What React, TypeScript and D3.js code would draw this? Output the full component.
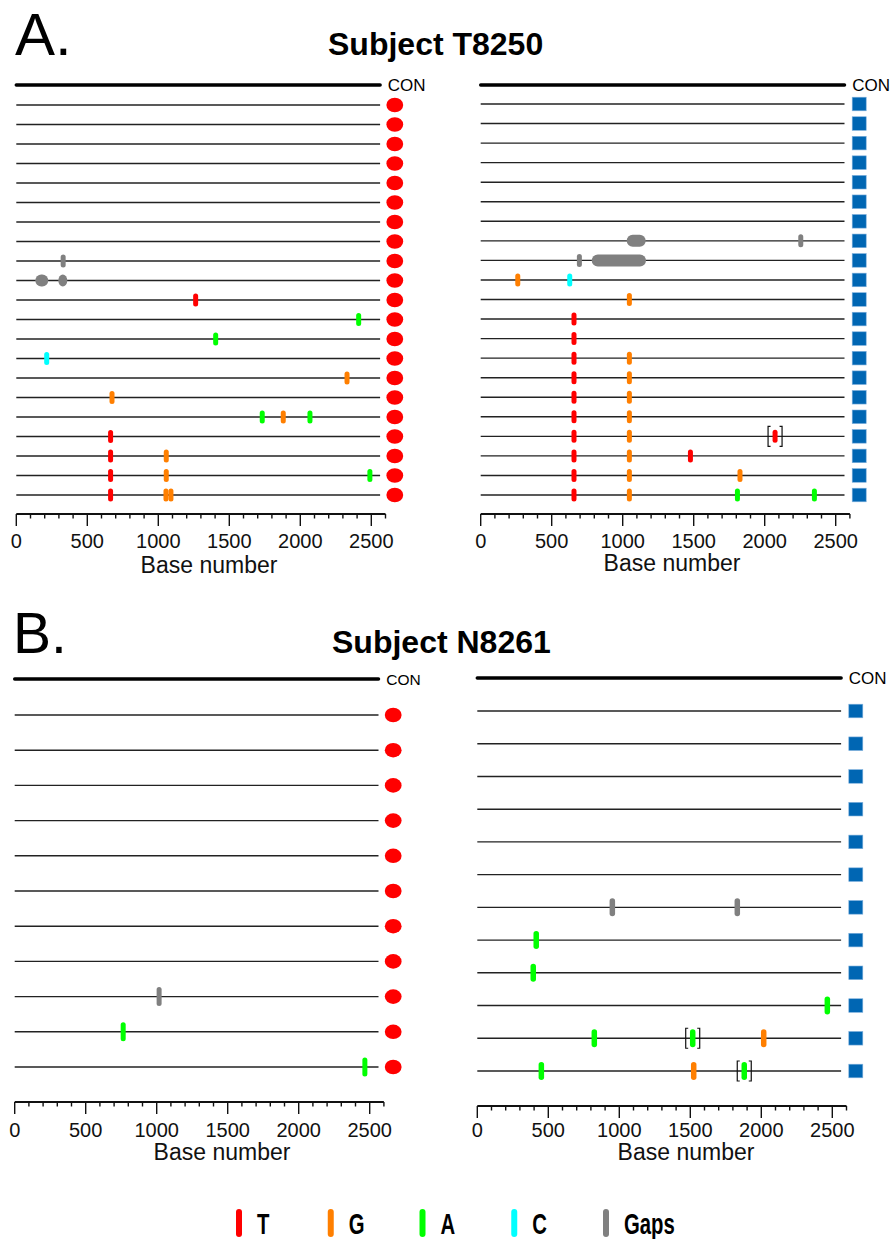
import * as d3 from 'd3';

// base colours used for every mutation tick and the legend
const baseColors: Record<string, string> = {
  T: '#ff0000',
  G: '#ff7f00',
  A: '#00ff00',
  C: '#00ffff',
  Gaps: '#808080',
};

const legendBases = ['T', 'G', 'A', 'C', 'Gaps'];
const axisTicks = [0, 500, 1000, 1500, 2000, 2500];
const axisMax = 2600;
const seqLength = 2562;

// one mutation: base, position, optional end (gap spans), optional brackets
type Mut = { b: string; at: number; to?: number; br?: boolean };

const t8250Left: Mut[][] = [
  [], [], [], [], [], [], [], [],
  [{ b: 'Gaps', at: 330 }],
  [{ b: 'Gaps', at: 134, to: 225 }, { b: 'Gaps', at: 296, to: 359 }],
  [{ b: 'T', at: 1263 }],
  [{ b: 'A', at: 2411 }],
  [{ b: 'A', at: 1404 }],
  [{ b: 'C', at: 214 }],
  [{ b: 'G', at: 2329 }],
  [{ b: 'G', at: 674 }],
  [{ b: 'A', at: 1732 }, { b: 'G', at: 1880 }, { b: 'A', at: 2068 }],
  [{ b: 'T', at: 664 }],
  [{ b: 'T', at: 664 }, { b: 'G', at: 1056 }],
  [{ b: 'T', at: 664 }, { b: 'G', at: 1056 }, { b: 'A', at: 2490 }],
  [{ b: 'T', at: 664 }, { b: 'G', at: 1054 }, { b: 'G', at: 1089 }],
];

const t8250Right: Mut[][] = [
  [], [], [], [], [], [], [],
  [{ b: 'Gaps', at: 1028, to: 1162 }, { b: 'Gaps', at: 2254 }],
  [{ b: 'Gaps', at: 695 }, { b: 'Gaps', at: 782, to: 1164 }],
  [{ b: 'G', at: 261 }, { b: 'C', at: 627 }],
  [{ b: 'G', at: 1047 }],
  [{ b: 'T', at: 657 }],
  [{ b: 'T', at: 657 }],
  [{ b: 'T', at: 657 }, { b: 'G', at: 1047 }],
  [{ b: 'T', at: 657 }, { b: 'G', at: 1047 }],
  [{ b: 'T', at: 657 }, { b: 'G', at: 1047 }],
  [{ b: 'T', at: 657 }, { b: 'G', at: 1047 }],
  [{ b: 'T', at: 657 }, { b: 'G', at: 1047 }, { b: 'T', at: 2073, br: true }],
  [{ b: 'T', at: 657 }, { b: 'G', at: 1047 }, { b: 'T', at: 1477 }],
  [{ b: 'T', at: 657 }, { b: 'G', at: 1047 }, { b: 'G', at: 1826 }],
  [{ b: 'T', at: 657 }, { b: 'G', at: 1047 }, { b: 'A', at: 1808 }, { b: 'A', at: 2350 }],
];

const n8261Left: Mut[][] = [
  [], [], [], [], [], [], [], [],
  [{ b: 'Gaps', at: 1017 }],
  [{ b: 'A', at: 764 }],
  [{ b: 'A', at: 2466 }],
];

const n8261Right: Mut[][] = [
  [], [], [], [], [], [],
  [{ b: 'Gaps', at: 951 }, { b: 'Gaps', at: 1831 }],
  [{ b: 'A', at: 415 }],
  [{ b: 'A', at: 394 }],
  [{ b: 'A', at: 2465 }],
  [{ b: 'A', at: 824 }, { b: 'A', at: 1517, br: true }, { b: 'G', at: 2017 }],
  [{ b: 'A', at: 451 }, { b: 'G', at: 1524 }, { b: 'A', at: 1880, br: true }],
];

const FONT = '"Liberation Sans", Arial, sans-serif';
const PX_PER_BASE = 0.142;

type PanelCfg = {
  rows: Mut[][];
  x0: number;
  conY: number;
  firstY: number;
  lastY: number;
  axisY: number;
  tickY: number;
  labelX: number;
  labelY: number;
  glyph: 'circle' | 'square';
  markW: number;
  markH: number;
  conSize: number;
};

const panels: PanelCfg[] = [
  { rows: t8250Left, x0: 16.3, conY: 85, firstY: 105, lastY: 495, axisY: 514, tickY: 548, labelX: 209, labelY: 573, glyph: 'circle', markW: 5, markH: 13, conSize: 17 },
  { rows: t8250Right, x0: 480.7, conY: 85, firstY: 104, lastY: 495, axisY: 514, tickY: 548, labelX: 672, labelY: 571, glyph: 'square', markW: 5, markH: 13, conSize: 17 },
  { rows: n8261Left, x0: 14.7, conY: 679, firstY: 715, lastY: 1067, axisY: 1102, tickY: 1137, labelX: 222, labelY: 1160, glyph: 'circle', markW: 5, markH: 19, conSize: 15.5 },
  { rows: n8261Right, x0: 477.3, conY: 678, firstY: 711, lastY: 1071, axisY: 1106, tickY: 1137, labelX: 686, labelY: 1160, glyph: 'square', markW: 5.5, markH: 18, conSize: 17 },
];

function Panel({ cfg }: { cfg: PanelCfg }) {
  const x = d3.scaleLinear().domain([0, axisMax]).range([cfg.x0, cfg.x0 + axisMax * PX_PER_BASE]);
  const y = d3.scaleLinear().domain([0, cfg.rows.length - 1]).range([cfg.firstY, cfg.lastY]);
  const glyphX = cfg.x0 + 378.5;
  const minor = d3.range(0, axisMax + 1, 100);
  const gapH = cfg.markH - 1;

  return (
    <g>
      {/* consensus */}
      <line x1={x(0)} x2={x(seqLength)} y1={cfg.conY} y2={cfg.conY} stroke="#000" strokeWidth={3.5} strokeLinecap="round" />
      <text x={glyphX - 7} y={cfg.conY + 6} fontSize={cfg.conSize} fontFamily={FONT}>CON</text>

      {cfg.rows.map((row, i) => {
        const ry = y(i);
        return (
          <g key={i}>
            <line x1={x(0)} x2={x(seqLength)} y1={ry} y2={ry} stroke="#222" strokeWidth={1.4} />
            {row.map((m, j) => {
              const fill = baseColors[m.b];
              if (m.to != null) {
                return (
                  <rect key={j} x={x(m.at)} y={ry - gapH / 2} width={x(m.to) - x(m.at)} height={gapH} rx={gapH / 2} fill={fill} />
                );
              }
              const cx = x(m.at);
              return (
                <g key={j}>
                  <rect x={cx - cfg.markW / 2} y={ry - cfg.markH / 2} width={cfg.markW} height={cfg.markH} rx={cfg.markW / 2} fill={fill} />
                  {m.br && (
                    <path
                      d={`M${cx - 4.5},${ry - 10}H${cx - 7}V${ry + 10}H${cx - 4.5}M${cx + 4.5},${ry - 10}H${cx + 7}V${ry + 10}H${cx + 4.5}`}
                      fill="none" stroke="#111" strokeWidth={1.2}
                    />
                  )}
                </g>
              );
            })}
            {cfg.glyph === 'circle' ? (
              <ellipse cx={glyphX} cy={ry} rx={8.4} ry={7.3} fill="#ff0000" />
            ) : (
              <rect x={glyphX - 7} y={ry - 6.8} width={14} height={13.6} fill="#0066b3" stroke="#7fb0dc" strokeWidth={0.6} />
            )}
          </g>
        );
      })}

      {/* axis */}
      <g>
        <line x1={x(0)} x2={x(axisMax)} y1={cfg.axisY} y2={cfg.axisY} stroke="#111" strokeWidth={1.8} />
        {minor.map((t) => (
          <line key={t} x1={x(t)} x2={x(t)} y1={cfg.axisY} y2={cfg.axisY + (axisTicks.includes(t) ? 12 : 4.5)} stroke="#111" strokeWidth={1.4} />
        ))}
        {axisTicks.map((t) => (
          <text key={t} x={x(t)} y={cfg.tickY} textAnchor="middle" fontSize={20} fontFamily={FONT} fill="#111">{t}</text>
        ))}
        <text x={cfg.labelX} y={cfg.labelY} textAnchor="middle" fontSize={23} fontFamily={FONT} fill="#111">Base number</text>
      </g>
    </g>
  );
}

function Legend() {
  const lx = d3.scalePoint<string>().domain(legendBases).range([239, 606]);
  return (
    <g>
      {legendBases.map((b) => (
        <g key={b}>
          <rect x={lx(b)! - 3} y={1209} width={6} height={28} rx={3} fill={baseColors[b]} />
          <text transform={`translate(${lx(b)! + 18},1234) scale(0.7,1)`} fontSize={29} fontWeight="bold" fontFamily={FONT} fill="#000">{b}</text>
        </g>
      ))}
    </g>
  );
}

export default function App() {
  return (
    <svg width={890} height={1239} viewBox="0 0 890 1239" style={{ position: 'absolute', left: 0, top: 0, background: '#fff' }}>
      <rect width={890} height={1239} fill="#fff" />
      <text x={15} y={55} fontSize={60} fontFamily={FONT}>A.</text>
      <text x={328} y={55} fontSize={32} fontWeight="bold" fontFamily={FONT}>Subject T8250</text>
      <text x={13} y={653} fontSize={57} fontFamily={FONT}>B.</text>
      <text x={332} y={653} fontSize={32} fontWeight="bold" fontFamily={FONT}>Subject N8261</text>
      {panels.map((p, i) => <Panel key={i} cfg={p} />)}
      <Legend />
    </svg>
  );
}
